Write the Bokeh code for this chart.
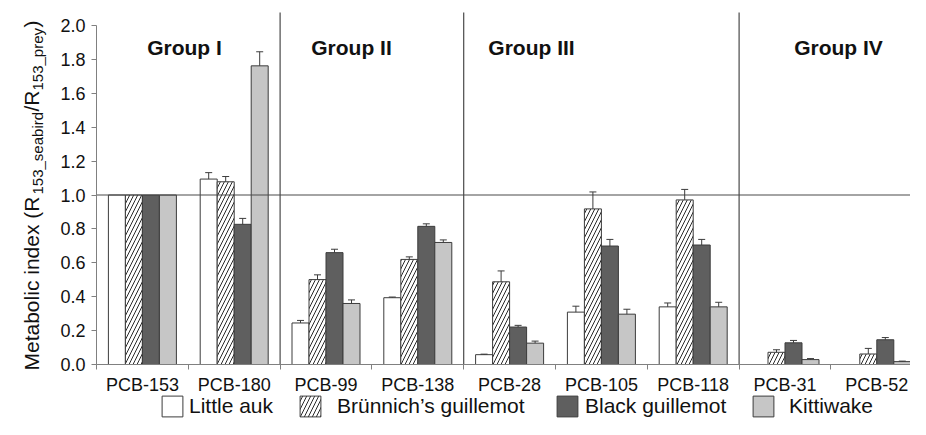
import numpy as np
from math import pi
from bokeh.plotting import figure
from bokeh.models import (ColumnDataSource, FixedTicker, Whisker, TeeHead,
                          Label, Legend, LegendItem, Range1d, NumeralTickFormatter)
from bokeh.core.properties import value
from bokeh.embed import file_html
from bokeh.resources import INLINE

# ---------------- data ----------------
categories = ["PCB-153", "PCB-180", "PCB-99", "PCB-138", "PCB-28",
              "PCB-105", "PCB-118", "PCB-31", "PCB-52"]
species = ["Little auk", "Brünnich’s guillemot", "Black guillemot", "Kittiwake"]

little_auk      = [1.000, 1.094, 0.245, 0.394, 0.058, 0.309, 0.340, 0.000, 0.000]
little_auk_err  = [0.000, 0.038, 0.015, 0.004, 0.003, 0.035, 0.023, 0.000, 0.000]
brunnich        = [1.000, 1.078, 0.501, 0.620, 0.488, 0.918, 0.971, 0.072, 0.062]
brunnich_err    = [0.000, 0.031, 0.028, 0.015, 0.064, 0.100, 0.062, 0.015, 0.033]
black_guil      = [1.000, 0.827, 0.660, 0.815, 0.221, 0.699, 0.705, 0.128, 0.146]
black_guil_err  = [0.000, 0.035, 0.020, 0.015, 0.010, 0.039, 0.033, 0.014, 0.013]
kittiwake       = [1.000, 1.762, 0.360, 0.720, 0.126, 0.297, 0.340, 0.029, 0.017]
kittiwake_err   = [0.000, 0.083, 0.021, 0.015, 0.012, 0.029, 0.027, 0.006, 0.003]

group_names = ["Group I", "Group II", "Group III", "Group IV"]
group_bounds = [2, 4, 7]          # category boundaries between groups
y_ticks = [0.0, 0.2, 0.4, 0.6, 0.8, 1.0, 1.2, 1.4, 1.6, 1.8, 2.0]
reference_level = 1.0

# ---------------- styling / layout ----------------
FONT = "Liberation Sans"
TXT = "#111111"
AXIS = "#808080"
DARK = "#3c3c3c"
LINE = "#4a4a4a"
fills = ["#ffffff", "#ffffff", "#5f5f5f", "#c6c6c6"]
hatches = [" ", "/", " ", " "]

W, H = 910, 419
X0_PX, CAT_PX = 96, 91.8          # y-axis position and category width (pixels)
Y0_PX, UNIT_PX = 364, 169.5       # baseline position and pixels per unit
x_start = -X0_PX / CAT_PX
x_end = (W - X0_PX) / CAT_PX
y_top = Y0_PX / UNIT_PX
y_bot = -(H - Y0_PX) / UNIT_PX
frame_top_val = (Y0_PX - 12) / UNIT_PX

def px_x(px):
    return (px - X0_PX) / CAT_PX

def px_y(px):
    return (Y0_PX - px) / UNIT_PX

n = len(categories)
bw = 17 / CAT_PX
centers = np.arange(n) + 0.5

p = figure(width=W, height=H, output_backend="svg", toolbar_location=None,
           x_range=Range1d(x_start, x_end), y_range=Range1d(y_bot, y_top))
p.min_border = 0
p.min_border_left = 0
p.min_border_right = 0
p.min_border_top = 0
p.min_border_bottom = 0
p.outline_line_color = None
p.xgrid.visible = False
p.ygrid.visible = False
p.background_fill_color = "white"
p.border_fill_color = "white"

vals = [little_auk, brunnich, black_guil, kittiwake]
errs = [little_auk_err, brunnich_err, black_guil_err, kittiwake_err]
renderers = []
wb, wl, wu = [], [], []
for k in range(4):
    xs = centers + (k - 1.5) * bw
    src = ColumnDataSource(dict(x=xs, top=vals[k]))
    r = p.vbar(x="x", top="top", bottom=0, width=bw, source=src,
               fill_color=fills[k], line_color=DARK, line_width=1,
               hatch_pattern=hatches[k], hatch_color="#2a2a2a",
               hatch_scale=8, hatch_weight=1)
    renderers.append(r)
    for i in range(n):
        if errs[k][i] > 0:
            wb.append(xs[i]); wl.append(vals[k][i]); wu.append(vals[k][i] + errs[k][i])

wsrc = ColumnDataSource(dict(base=wb, lower=wl, upper=wu))
p.add_layout(Whisker(source=wsrc, base="base", lower="lower", upper="upper",
                     dimension="height", line_color=DARK, line_width=1,
                     lower_head=None,
                     upper_head=TeeHead(size=7, line_color=DARK, line_width=1),
                     level="overlay"))

# reference line at 1.0 and group separators
p.segment(x0=[0], x1=[n], y0=[reference_level], y1=[reference_level],
          line_color=LINE, line_width=1.2)
p.segment(x0=group_bounds, x1=group_bounds, y0=[0] * len(group_bounds),
          y1=[frame_top_val] * len(group_bounds), line_color=LINE, line_width=1.2)

# group titles
gsrc = ColumnDataSource(dict(x=[px_x(184), px_x(351), px_x(531), px_x(838)],
                             y=[px_y(47)] * 4, text=group_names))
p.text(x="x", y="y", text="text", source=gsrc, text_font=value(FONT),
       text_font_style="bold", text_font_size="21px", text_align="center",
       text_baseline="alphabetic", text_color=TXT)

# y axis
yax = p.yaxis[0]
yax.fixed_location = 0
yax.ticker = FixedTicker(ticks=y_ticks)
yax.formatter = NumeralTickFormatter(format="0.0")
yax.bounds = (0, 2.0)
yax.major_tick_in = 0
yax.major_tick_out = 5
yax.minor_tick_line_color = None
yax.axis_line_color = AXIS
yax.major_tick_line_color = AXIS
yax.major_label_standoff = 6
yax.major_label_text_font = FONT
yax.major_label_text_font_size = "18px"
yax.major_label_text_color = TXT

# x axis
xax = p.xaxis[0]
xax.fixed_location = 0
xax.bounds = (0, n)
xax.ticker = FixedTicker(ticks=list(centers), minor_ticks=list(range(n + 1)))
xax.major_label_overrides = {float(c): name for c, name in zip(centers, categories)}
xax.major_tick_in = 0
xax.major_tick_out = 0
xax.minor_tick_in = 0
xax.minor_tick_out = 5
xax.minor_tick_line_color = AXIS
xax.axis_line_color = AXIS
xax.major_label_standoff = 5
xax.major_label_text_font = FONT
xax.major_label_text_font_size = "18px"
xax.major_label_text_color = TXT

# y axis title with subscripts (rotated pieces)
pieces = [("Metabolic index (R", 21, 31, 370),
          ("153_seabird", 15, 37, 194),
          ("/R", 21, 31, 111),
          ("153_prey", 15, 37, 90),
          (")", 21, 31, 27)]
for txt, size, bx, sy in pieces:
    p.add_layout(Label(x=px_x(bx), y=px_y(sy), text=txt, angle=pi / 2,
                       text_align="left", text_baseline="alphabetic",
                       text_font=FONT, text_font_size=f"{size}px", text_color=TXT))

# legends (one per species so each sits where the reference has it)
leg_x = [159, 297, 554, 750]
leg_standoff = [4, 14, 5, 13]
for k in range(4):
    lg = Legend(items=[LegendItem(label=species[k], renderers=[renderers[k]])],
                location=(leg_x[k], 0), orientation="horizontal",
                padding=0, margin=0, border_line_color=None,
                background_fill_alpha=0, glyph_width=26, glyph_height=26,
                label_standoff=leg_standoff[k], label_text_font=FONT,
                label_text_font_size="21px", label_text_color=TXT)
    p.add_layout(lg, "center")

open("out.html", "w").write(file_html(p, INLINE))
